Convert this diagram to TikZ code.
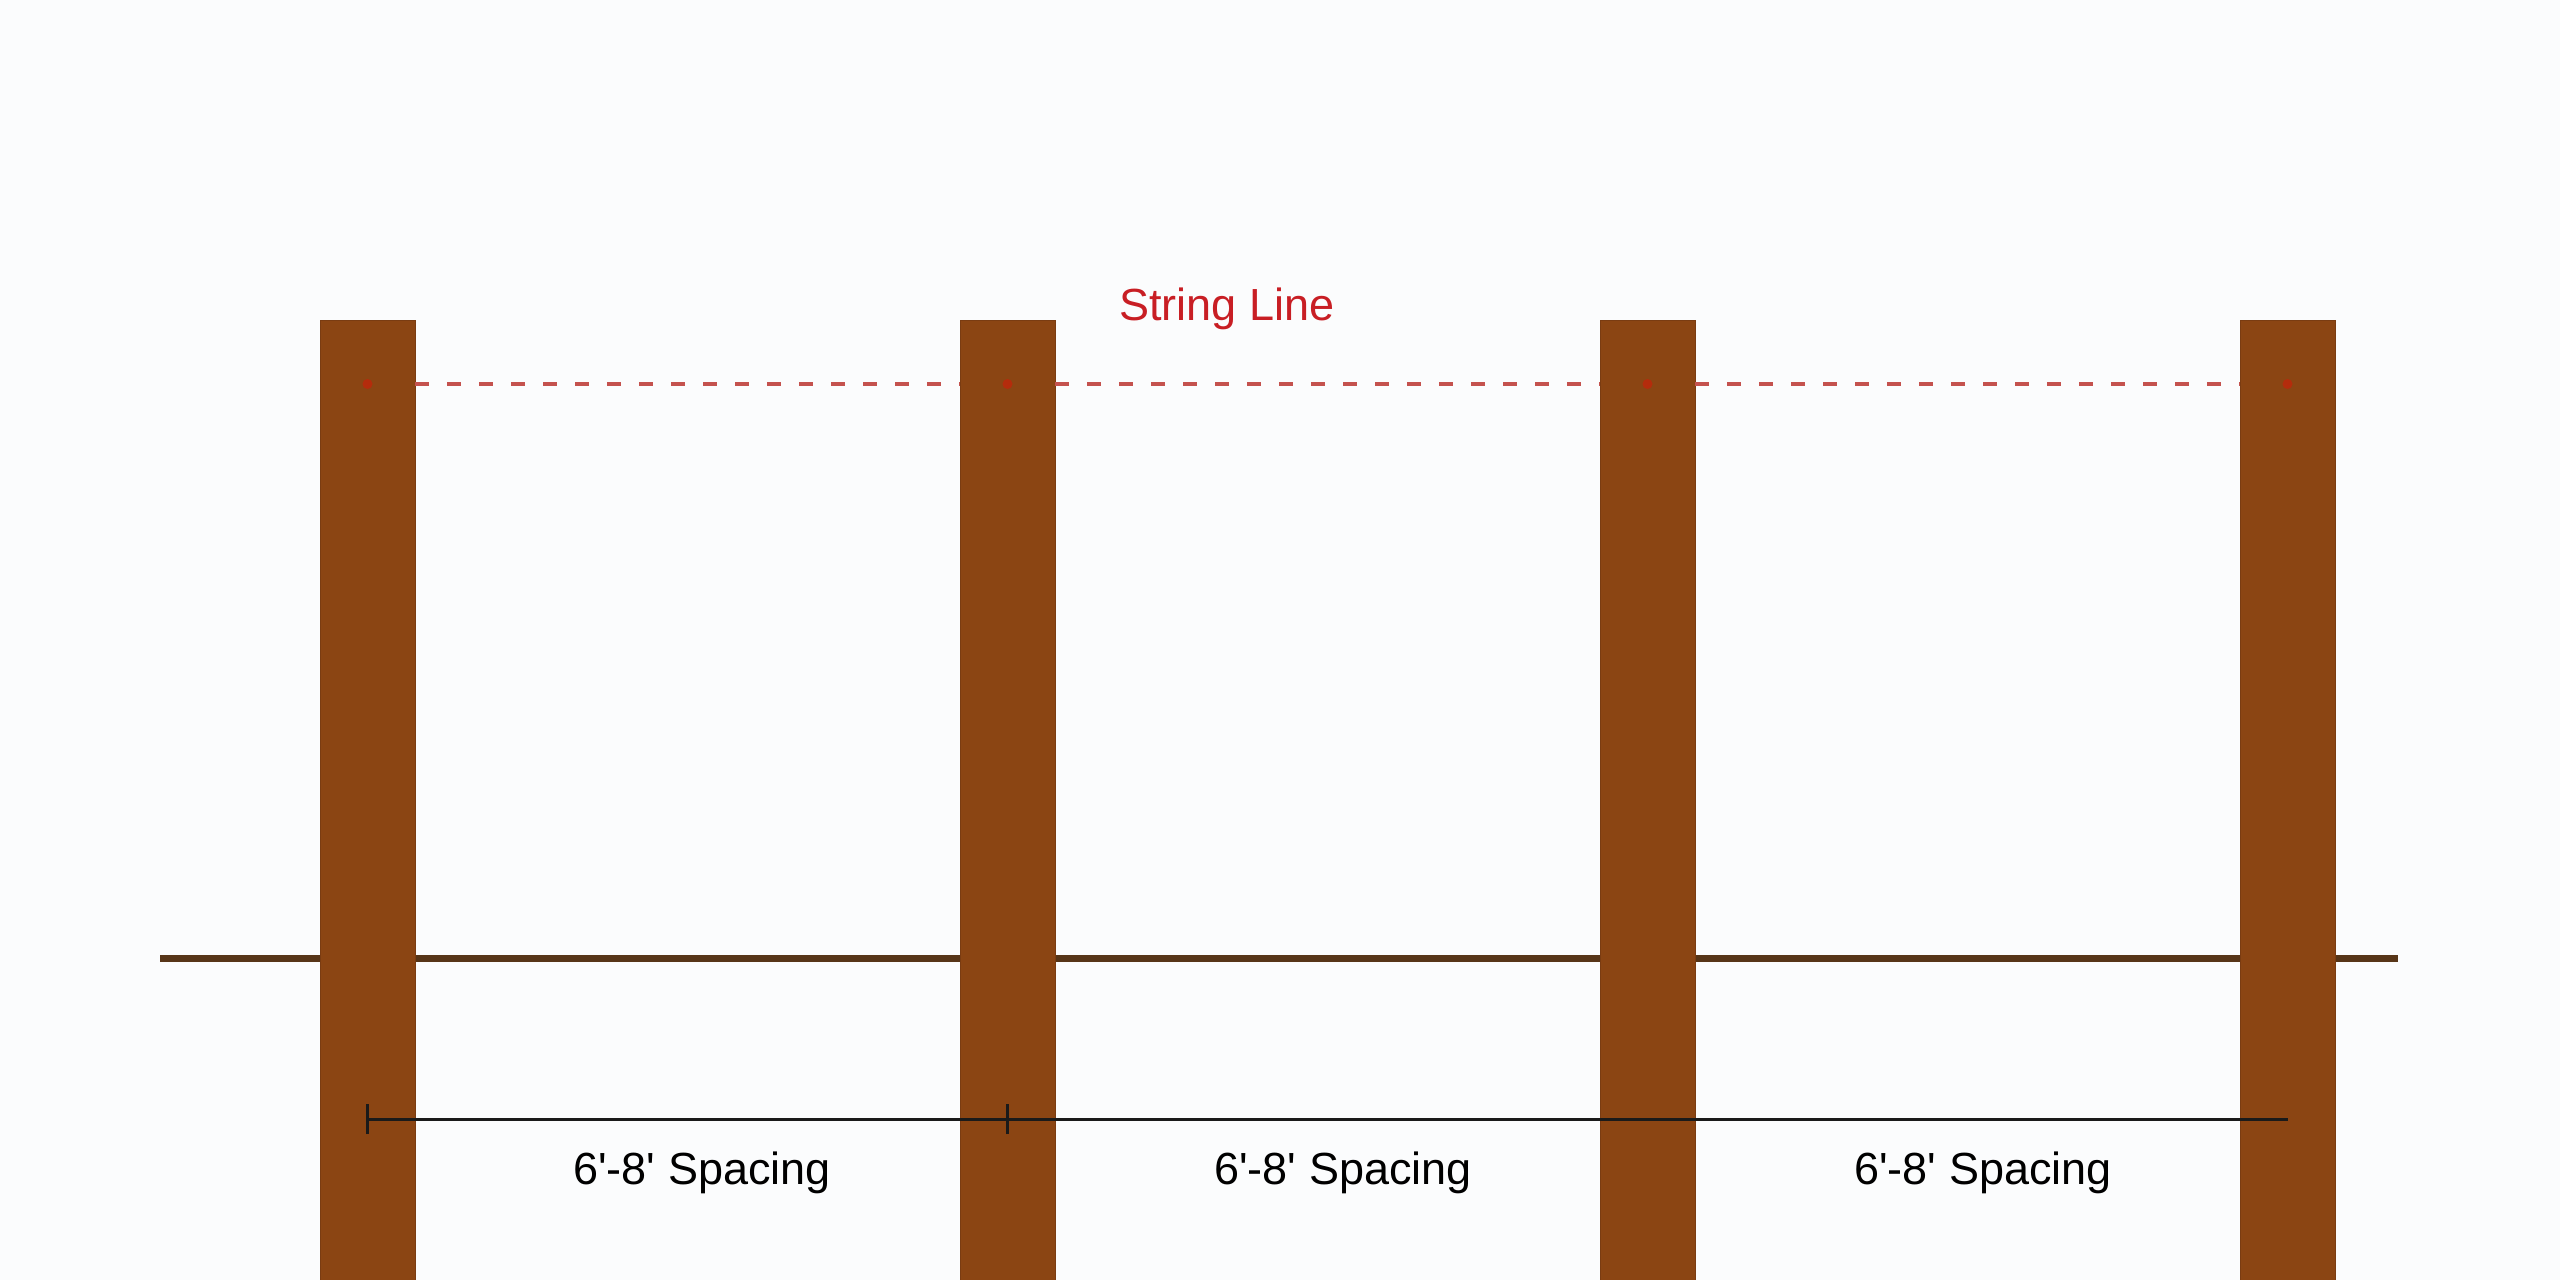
\documentclass[tikz,border=0pt]{standalone}
\usepackage{fontspec}
\setmainfont{Liberation Sans}[Ligatures=TeXOff]
\definecolor{bg}{HTML}{FBFCFD}
\definecolor{postbrown}{HTML}{8B4513}
\definecolor{postedge}{HTML}{7A3C12}
\definecolor{groundbrown}{HTML}{573518}
\definecolor{stringred}{HTML}{C4524E}
\definecolor{labelred}{HTML}{C81E24}
\definecolor{dimblack}{HTML}{1A1A1A}
\tikzset{
  post/.style={rectangle, fill=postbrown, draw=postedge, line width=1pt, minimum width=95pt, minimum height=960pt, inner sep=0pt, outer sep=0pt},
  ground/.style={draw=groundbrown, line width=7pt},
  stringline/.style={draw=stringred, line width=4.5pt, dash pattern=on 14pt off 18pt},
  stringdot/.style={circle, fill=red!80!postbrown, opacity=0.45, minimum size=10pt, inner sep=0pt},
  dimline/.style={draw=dimblack, line width=3pt},
  lbl/.style={font=\fontsize{45}{54}\selectfont, inner sep=0pt, anchor=base},
}
\begin{document}
\begin{tikzpicture}[x=1pt,y=-1pt]
\fill[bg] (0,0) rectangle (2560,1280);
\useasboundingbox (0,0) rectangle (2560,1280);
% ground line
\coordinate (gl) at (160,958);
\coordinate (gr) at (2398,958);
\draw[ground] (gl) -- (gr);
% posts
\node[post] (p1) at (367.5,800) {};
\node[post] (p2) at (1007.5,800) {};
\node[post] (p3) at (1647.5,800) {};
\node[post] (p4) at (2287.5,800) {};
% string line between posts
\coordinate (s1) at (367.5,384);
\draw[stringline] (p1.east |- s1) -- (p2.west |- s1);
\draw[stringline] (p2.east |- s1) -- (p3.west |- s1);
\draw[stringline] (p3.east |- s1) -- (p4.west |- s1);
% faint string marks on posts
\foreach \i in {1,2,3,4} {
  \node[stringdot] (m\i) at (p\i.center |- s1) {};
}
% dimension line
\coordinate (d1) at (p1.center |- 0,1119);
\coordinate (d2) at (p2.center |- 0,1119);
\coordinate (d4) at (p4.center |- 0,1119);
\draw[dimline] (d1) -- (d4);
\draw[dimline] ([yshift=-15pt]d1) -- ([yshift=15pt]d1);
\draw[dimline] ([yshift=-15pt]d2) -- ([yshift=15pt]d2);
% labels
\node[lbl, text=labelred] (title) at (1227,320) {String Line};
\node[lbl] (sp1) at (702,1184) {6'-8' Spacing};
\node[lbl] (sp2) at (1343,1184) {6'-8' Spacing};
\node[lbl] (sp3) at (1983,1184) {6'-8' Spacing};
\end{tikzpicture}
\end{document}
